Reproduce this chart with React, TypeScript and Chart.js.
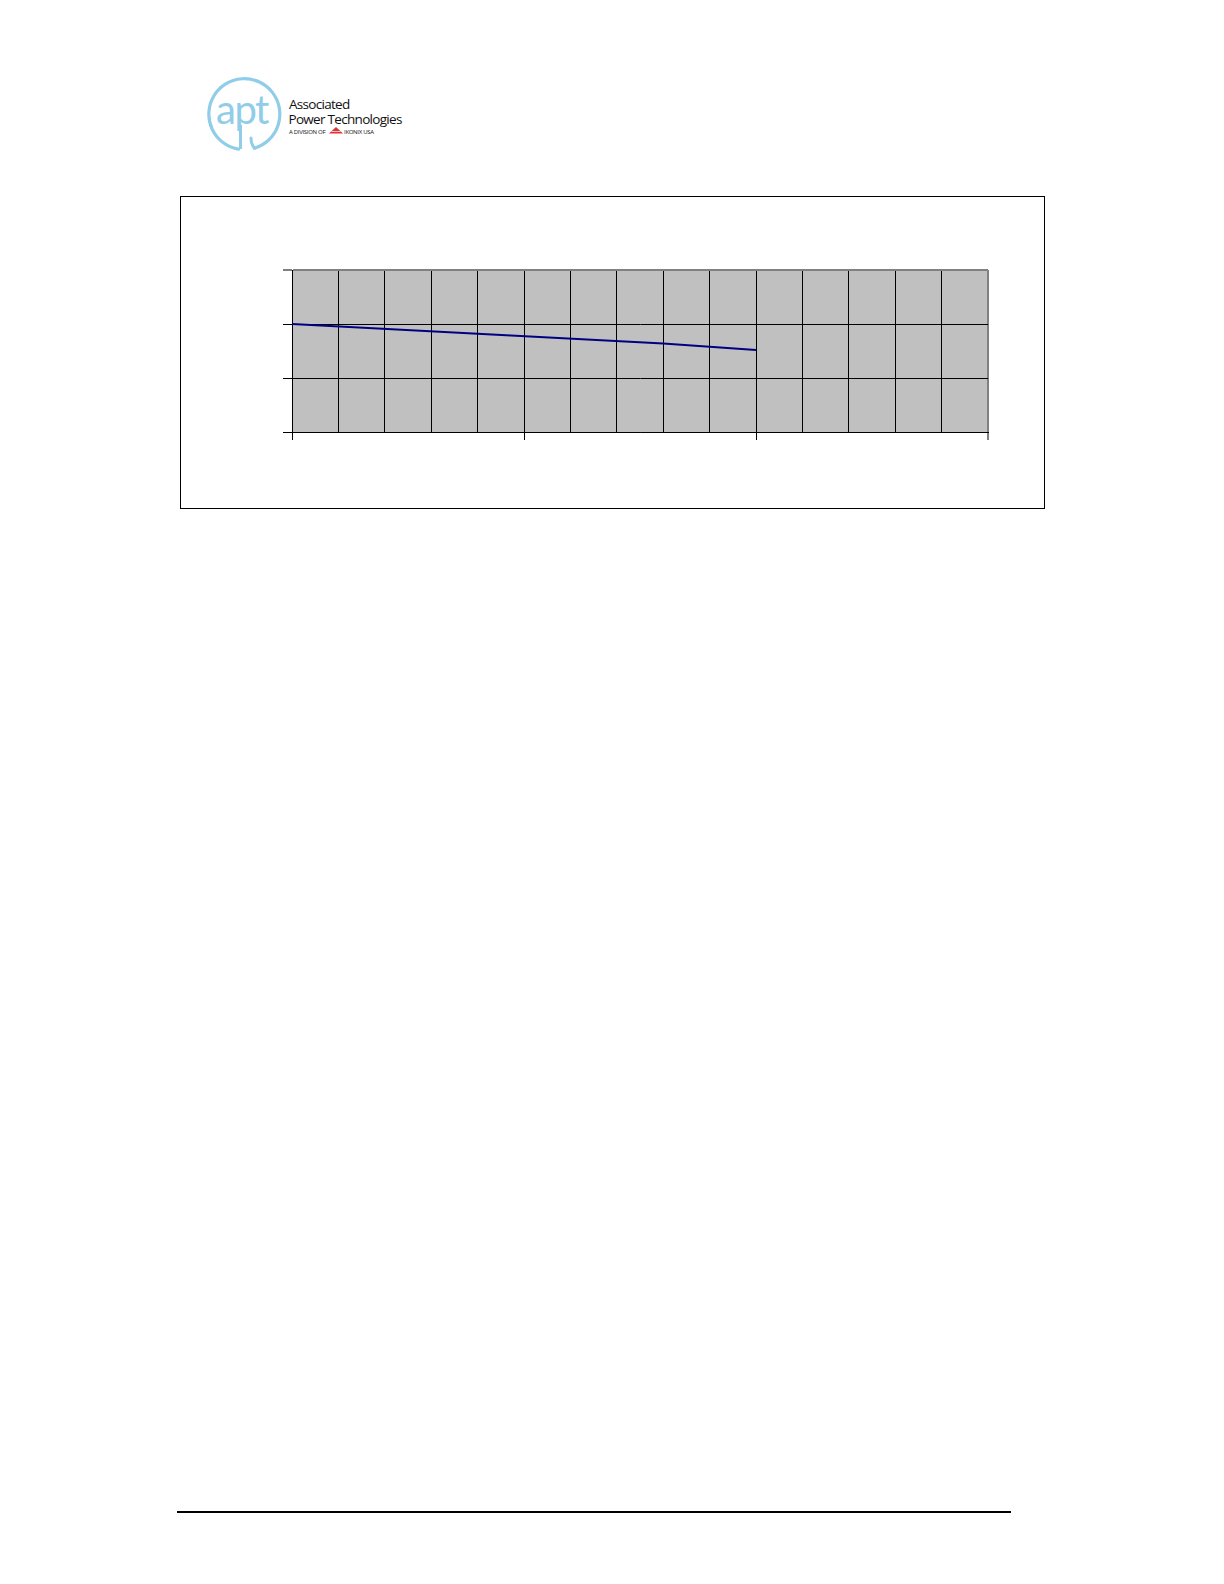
import React, { useEffect, useRef } from "react";
import { Chart, registerables } from "chart.js";

Chart.register(...registerables);

// Series values
const seriesX = [0, 4, 8, 10];
const seriesY = [2.0, 1.82, 1.64, 1.52];

// Axis ranges
const xMin = 0;
const xMax = 15;
const xStep = 1;
const xMajorStep = 5;
const yMin = 0;
const yMax = 3;
const yStep = 1;

export default function App() {
  const ref = useRef<HTMLCanvasElement>(null);

  useEffect(() => {
    const plotBg = {
      id: "plotBg",
      beforeDraw(chart: any) {
        const { ctx, chartArea: a } = chart;
        ctx.save();
        ctx.fillStyle = "#c0c0c0";
        ctx.fillRect(a.left, a.top, a.right - a.left, a.bottom - a.top);
        ctx.restore();
      },
    };

    const chart = new Chart(ref.current as HTMLCanvasElement, {
      type: "line",
      data: {
        datasets: [
          {
            data: seriesX.map((x, i) => ({ x, y: seriesY[i] })),
            borderColor: "#000080",
            borderWidth: 2,
            pointRadius: 0,
            tension: 0,
            fill: false,
          },
        ],
      },
      options: {
        animation: false,
        responsive: false,
        devicePixelRatio: 1,
        layout: { padding: { left: 103, top: 74, right: 56, bottom: 68 } },
        plugins: {
          legend: { display: false },
          tooltip: { enabled: false },
          title: { display: false },
        },
        scales: {
          x: {
            type: "linear",
            min: xMin,
            max: xMax,
            ticks: { stepSize: xStep, display: false },
            grid: {
              color: (c: any) => (c.tick && c.tick.value === xMax ? "#808080" : "#000000"),
              lineWidth: (c: any) => (c.tick && c.tick.value === xMax ? 2 : 1),
              tickLength: 8,
              tickWidth: 1,
              tickColor: (c: any) =>
                c.tick && c.tick.value % xMajorStep === 0 ? "#000000" : "rgba(0,0,0,0)",
            },
            border: { color: "#000000", width: 1 },
            afterFit: (s: any) => {
              s.height = 8;
            },
          },
          y: {
            type: "linear",
            min: yMin,
            max: yMax,
            ticks: { stepSize: yStep, display: false },
            grid: {
              color: (c: any) => (c.tick && c.tick.value === yMax ? "#808080" : "#000000"),
              lineWidth: (c: any) => (c.tick && c.tick.value === yMax ? 2 : 1),
              tickLength: 9,
              tickWidth: 1,
              tickColor: "#000000",
            },
            border: { color: "#000000", width: 1 },
            afterFit: (s: any) => {
              s.width = 9;
            },
          },
        },
      },
      plugins: [plotBg],
    } as any);
    return () => chart.destroy();
  }, []);

  const blue = "#8fcde8";

  return (
    <div style={{ position: "relative", width: 1224, height: 1584, background: "#fff" }}>
      {/* Logo */}
      <svg
        width={230}
        height={95}
        viewBox="200 68 230 95"
        style={{ position: "absolute", left: 200 - 8, top: 68 - 8 }}
      >
        <path
          d="M 238.5 149.2 A 35.5 35.5 0 1 1 254.5 148.2"
          fill="none"
          stroke={blue}
          strokeWidth={3.2}
          strokeLinecap="round"
        />
        <path d="M 254.5 148.2 Q 251 144 251 138" fill="none" stroke={blue} strokeWidth={3} strokeLinecap="round" />
        <text
          x={216}
          y={124}
          fontFamily="Lato, 'Open Sans', sans-serif"
          fontWeight={400}
          fontSize={40}
          fill={blue}
          letterSpacing={-1.5}
        >
          apt
        </text>
        <line x1={240.5} y1={125} x2={240.5} y2={149} stroke={blue} strokeWidth={3} />
        <text x={289} y={108.5} fontFamily="'Open Sans', sans-serif" fontWeight={500} fontSize={13.5} fill="#111" letterSpacing={-0.7}>
          Associated
        </text>
        <text x={288.5} y={124} fontFamily="'Open Sans', sans-serif" fontWeight={500} fontSize={13.5} fill="#111" letterSpacing={-0.7}>
          Power Technologies
        </text>
        <text x={289} y={133.5} fontFamily="'Open Sans', sans-serif" fontSize={6} fill="#111" letterSpacing={-0.3}>
          A DIVISION OF
        </text>
        <polygon points="329,133.5 336,127 343,133.5" fill="#d33" />
        <line x1={331.5} y1={131.5} x2={340.5} y2={131.5} stroke="#fff" strokeWidth={0.7} />
        <text x={344} y={133.5} fontFamily="'Open Sans', sans-serif" fontSize={6} fill="#111" letterSpacing={-0.3}>
          IKONIX USA
        </text>
      </svg>

      {/* Chart box */}
      <div
        style={{
          position: "absolute",
          left: 180 - 8,
          top: 196 - 8,
          width: 865,
          height: 313,
          boxSizing: "border-box",
          border: "1px solid #000",
        }}
      />
      <canvas
        ref={ref}
        width={864}
        height={312}
        style={{ position: "absolute", left: 180 - 8, top: 196 - 8, width: 864, height: 312 }}
      />

      {/* Footer rule */}
      <div
        style={{
          position: "absolute",
          left: 177 - 8,
          top: 1511 - 8,
          width: 834,
          height: 1.5,
          background: "#000",
        }}
      />
    </div>
  );
}
